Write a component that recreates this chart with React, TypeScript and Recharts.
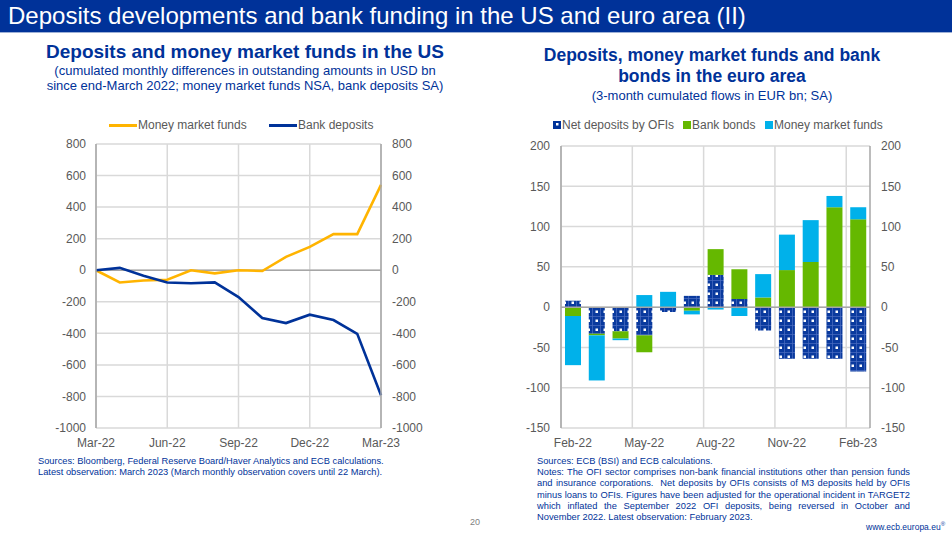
import {
  LineChart,
  Line,
  BarChart,
  Bar,
  XAxis,
  YAxis,
  CartesianGrid,
  ReferenceLine,
} from 'recharts';

// US chart: cumulated monthly differences, USD bn
const usMonths = ['Mar-22', 'Apr-22', 'May-22', 'Jun-22', 'Jul-22', 'Aug-22', 'Sep-22', 'Oct-22', 'Nov-22', 'Dec-22', 'Jan-23', 'Feb-23', 'Mar-23'];
const usMoneyMarketFunds = [0, -78, -65, -60, 0, -20, 0, -5, 85, 148, 229, 229, 541];
const usBankDeposits = [0, 15, -35, -78, -83, -77, -170, -303, -335, -282, -316, -403, -793];
const usXTicks = ['Mar-22', 'Jun-22', 'Sep-22', 'Dec-22', 'Mar-23'];
const usYTicks = [-1000, -800, -600, -400, -200, 0, 200, 400, 600, 800];

// Euro area chart: 3-month cumulated flows, EUR bn
const eaMonths = ['Feb-22', 'Mar-22', 'Apr-22', 'May-22', 'Jun-22', 'Jul-22', 'Aug-22', 'Sep-22', 'Oct-22', 'Nov-22', 'Dec-22', 'Jan-23', 'Feb-23'];
const eaOfiDeposits = [8, -33, -30, -35, -6, 14, 40, 10, -29, -64, -64, -64, -80];
const eaBankBonds = [-11, -2, -9, -21, 0, -4.5, 32, 37, 12, 46, 56, 124, 109];
const eaMoneyMarketFunds = [-61, -56, -2, 15, 19, -4.5, -3, -11, 29, 44, 52, 14, 15];
const eaXTicks = ['Feb-22', 'May-22', 'Aug-22', 'Nov-22', 'Feb-23'];
const eaYTicks = [-150, -100, -50, 0, 50, 100, 150, 200];

const usData = usMonths.map((month, i) => ({
  month,
  mmf: usMoneyMarketFunds[i],
  deposits: usBankDeposits[i],
}));

const eaData = eaMonths.map((month, i) => ({
  month,
  ofi: eaOfiDeposits[i],
  bonds: eaBankBonds[i],
  mmf: eaMoneyMarketFunds[i],
}));

const FONT = '"Liberation Sans", Arial, sans-serif';
const ECB_BLUE = '#003299';
const ORANGE = '#FFB400';
const GREEN = '#65B800';
const CYAN = '#00B1EA';
const GRID = '#D9D9D9';
const AXIS = '#A6A6A6';
const TICK = { fontSize: 12, fill: '#595959', fontFamily: FONT };

// grid lines on the category boundaries before each labelled month
// eslint-disable-next-line @typescript-eslint/no-explicit-any
const eaVerticalGrid = ({ offset, width }: any) => {
  const plotWidth = width - offset.left - offset.right;
  return eaXTicks.map((t) => offset.left + (plotWidth * eaMonths.indexOf(t)) / eaMonths.length);
};

function LineSwatch({ left, color, label }: { left: number; color: string; label: string }) {
  return (
    <div style={{ position: 'absolute', left, top: 117, display: 'flex', alignItems: 'center', fontSize: 12, color: '#595959', whiteSpace: 'nowrap' }}>
      <span style={{ width: 28, height: 3, background: color, marginRight: 1, display: 'inline-block' }} />
      <span style={{ lineHeight: '16px' }}>{label}</span>
    </div>
  );
}

function BoxSwatch({ left, fill, label, dotted }: { left: number; fill: string; label: string; dotted?: boolean }) {
  return (
    <div style={{ position: 'absolute', left, top: 117, display: 'flex', alignItems: 'center', fontSize: 12, color: '#595959', whiteSpace: 'nowrap' }}>
      <svg width={8} height={8} style={{ marginRight: 1 }}>
        <rect width={8} height={8} fill={fill} />
        {dotted && <rect x={3} y={2} width={2.5} height={2.5} fill="#fff" />}
      </svg>
      <span style={{ lineHeight: '16px' }}>{label}</span>
    </div>
  );
}

const noteLine = { whiteSpace: 'nowrap' as const, height: 11.2, lineHeight: '11.2px' };
const justified = { textAlign: 'justify' as const, textAlignLast: 'justify' as const, height: 11.2, lineHeight: '11.2px' };

export default function App() {
  return (
    <div style={{ position: 'absolute', left: 0, top: 0, width: 952, height: 534, background: '#fff', overflow: 'hidden', fontFamily: FONT }}>
      {/* header bar */}
      <div style={{ position: 'absolute', left: 0, top: 0, width: 952, height: 32, background: ECB_BLUE, borderBottom: '1px solid #9DB0D6' }} />
      <div style={{ position: 'absolute', left: 8, top: 2, color: '#fff', fontSize: 24, lineHeight: '28px', whiteSpace: 'nowrap' }}>
        Deposits developments and bank funding in the US and euro area (II)
      </div>

      {/* left titles */}
      <div style={{ position: 'absolute', left: 40, top: 40, width: 410, textAlign: 'center', color: ECB_BLUE }}>
        <div style={{ fontSize: 19, fontWeight: 700, lineHeight: '24px' }}>Deposits and money market funds in the US</div>
        <div style={{ fontSize: 13, lineHeight: '15px', marginTop: -1 }}>(cumulated monthly differences in outstanding amounts in USD bn</div>
        <div style={{ fontSize: 13, lineHeight: '15px' }}>since end-March 2022; money market funds NSA, bank deposits SA)</div>
      </div>

      {/* right titles */}
      <div style={{ position: 'absolute', left: 512, top: 45, width: 400, textAlign: 'center', color: ECB_BLUE }}>
        <div style={{ fontSize: 17.5, fontWeight: 700, lineHeight: '21px' }}>Deposits, money market funds and bank</div>
        <div style={{ fontSize: 17.5, fontWeight: 700, lineHeight: '21px' }}>bonds in the euro area</div>
        <div style={{ fontSize: 13, lineHeight: '18px' }}>(3-month cumulated flows in EUR bn; SA)</div>
      </div>

      {/* legends */}
      <LineSwatch left={109} color={ORANGE} label="Money market funds" />
      <LineSwatch left={269} color={ECB_BLUE} label="Bank deposits" />
      <BoxSwatch left={553} fill={ECB_BLUE} dotted label="Net deposits by OFIs" />
      <BoxSwatch left={683} fill={GREEN} label="Bank bonds" />
      <BoxSwatch left={765} fill={CYAN} label="Money market funds" />

      {/* US line chart */}
      <div style={{ position: 'absolute', left: 0, top: 100 }}>
        <LineChart width={480} height={360} data={usData} margin={{ top: 44, right: 39, bottom: 2, left: 36 }}>
          <CartesianGrid stroke={GRID} strokeWidth={1.5} />
          <XAxis
            dataKey="month"
            ticks={usXTicks}
            interval={0}
            axisLine={false}
            tickLine={false}
            tickMargin={4}
            height={30}
            tick={TICK}
          />
          <YAxis
            type="number"
            domain={[-1000, 800]}
            ticks={usYTicks}
            interval={0}
            width={60}
            axisLine={{ stroke: AXIS, strokeWidth: 1.5 }}
            tickLine={false}
            tickMargin={4}
            tick={TICK}
          />
          <YAxis
            yAxisId="r"
            type="number"
            orientation="right"
            domain={[-1000, 800]}
            allowDataOverflow
            ticks={usYTicks}
            interval={0}
            width={60}
            axisLine={{ stroke: AXIS, strokeWidth: 1.5 }}
            tickLine={false}
            tickMargin={5}
            tick={TICK}
          />
          <ReferenceLine y={0} stroke={AXIS} strokeWidth={1.5} />
          <Line dataKey="mmf" stroke={ORANGE} strokeWidth={2.6} dot={false} isAnimationActive={false} />
          <Line dataKey="deposits" stroke={ECB_BLUE} strokeWidth={2.6} dot={false} isAnimationActive={false} />
          {/* invisible twin so the right-hand axis gets a domain and its labels */}
          <Line yAxisId="r" dataKey="deposits" stroke="none" dot={false} activeDot={false} legendType="none" isAnimationActive={false} />
        </LineChart>
      </div>

      {/* euro area stacked bars */}
      <div style={{ position: 'absolute', left: 480, top: 100 }}>
        <BarChart width={472} height={360} data={eaData} stackOffset="sign" barSize={16} margin={{ top: 46, right: 22, bottom: 2, left: 21 }}>
          <defs>
            <pattern id="ofiDots" width={8} height={9} patternUnits="userSpaceOnUse">
              <rect width={8} height={9} fill="#0A3A9E" />
              <path d="M0 0.4H8M0.4 0V9" stroke="#4A6CC0" strokeWidth={0.8} />
              <rect x={3.5} y={3.5} width={2.5} height={2.5} fill="#fff" />
            </pattern>
          </defs>
          <CartesianGrid stroke={GRID} strokeWidth={1.5} verticalCoordinatesGenerator={eaVerticalGrid} />
          <XAxis
            dataKey="month"
            ticks={eaXTicks}
            interval={0}
            axisLine={false}
            tickLine={false}
            tickMargin={4}
            height={30}
            tick={TICK}
          />
          <YAxis
            type="number"
            domain={[-150, 200]}
            ticks={eaYTicks}
            interval={0}
            width={60}
            axisLine={{ stroke: AXIS, strokeWidth: 1.5 }}
            tickLine={false}
            tickMargin={5}
            tick={TICK}
          />
          <YAxis
            yAxisId="r"
            type="number"
            orientation="right"
            domain={[-150, 200]}
            allowDataOverflow
            ticks={eaYTicks}
            interval={0}
            width={60}
            axisLine={{ stroke: AXIS, strokeWidth: 1.5 }}
            tickLine={false}
            tickMargin={5}
            tick={TICK}
          />
          <Bar dataKey="ofi" stackId="a" fill="url(#ofiDots)" isAnimationActive={false} />
          <Bar dataKey="bonds" stackId="a" fill={GREEN} isAnimationActive={false} />
          <Bar dataKey="mmf" stackId="a" fill={CYAN} isAnimationActive={false} />
          <ReferenceLine y={0} stroke={AXIS} strokeWidth={1.5} />
        </BarChart>
      </div>

      {/* footnotes */}
      <div style={{ position: 'absolute', left: 38, top: 456, fontSize: 9.3, color: ECB_BLUE }}>
        <div style={noteLine}>Sources: Bloomberg, Federal Reserve Board/Haver Analytics and ECB calculations.</div>
        <div style={noteLine}>Latest observation: March 2023 (March monthly observation covers until 22 March).</div>
      </div>
      <div style={{ position: 'absolute', left: 537, top: 456, width: 373, fontSize: 9.3, color: ECB_BLUE }}>
        <div style={noteLine}>Sources: ECB (BSI) and ECB calculations.</div>
        <div style={justified}>Notes: The OFI sector comprises non-bank financial institutions other than pension funds</div>
        <div style={justified}>and insurance corporations.&nbsp; Net deposits by OFIs consists of M3 deposits held by OFIs</div>
        <div style={justified}>minus loans to OFIs. Figures have been adjusted for the operational incident in TARGET2</div>
        <div style={justified}>which inflated the September 2022 OFI deposits, being reversed in October and</div>
        <div style={noteLine}>November 2022. Latest observation: February 2023.</div>
      </div>
      <div style={{ position: 'absolute', left: 470, top: 517, fontSize: 9, color: '#7F7F7F' }}>20</div>
      <div style={{ position: 'absolute', left: 866, top: 521, fontSize: 8.5, color: ECB_BLUE, whiteSpace: 'nowrap' }}>
        www.ecb.europa.eu<sup style={{ fontSize: 6 }}>®</sup>
      </div>
    </div>
  );
}
